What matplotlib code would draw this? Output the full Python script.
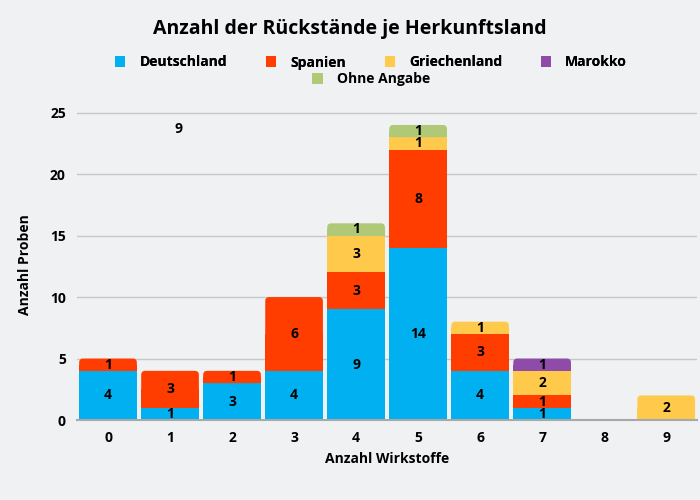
import matplotlib
matplotlib.use("Agg")
import matplotlib.pyplot as plt
from matplotlib.patches import FancyBboxPatch, Patch
import numpy as np

# ── DATA ──────────────────────────────────────────────────────────────────────
categories   = [0, 1, 2, 3, 4, 5, 6, 7, 8, 9]
deutschland  = [4, 1, 3, 4, 9, 14, 4, 1, 0, 0]
spanien      = [1, 3, 1, 6, 3, 8, 3, 1, 0, 0]
griechenland = [0, 0, 0, 0, 3, 1, 1, 2, 0, 2]
marokko      = [0, 0, 0, 0, 0, 0, 0, 1, 0, 0]
ohne_angabe  = [0, 0, 0, 0, 1, 1, 0, 0, 0, 0]

series = [
    ("Deutschland", deutschland, "#00b0f0"),
    ("Spanien", spanien, "#ff3d00"),
    ("Griechenland", griechenland, "#ffca4c"),
    ("Marokko", marokko, "#8e4ba8"),
    ("Ohne Angabe", ohne_angabe, "#b0c977"),
]

BG = "#f0f1f3"
FONT = "Open Sans"
plt.rcParams["font.family"] = [FONT, "DejaVu Sans"]
plt.rcParams["font.weight"] = "bold"

fig = plt.figure(figsize=(7, 5), dpi=100, facecolor=BG)
ax = fig.add_axes([0.11, 0.16, 0.886, 0.622])
ax.set_facecolor(BG)

ymax = 25.3
ax.set_xlim(-0.5, 9.5)
ax.set_ylim(0, ymax)

width = 0.93
x = np.array(categories)
bottom = np.zeros(len(x))
totals = np.sum([s[1] for s in series], axis=0)

# rounding: ~4px in both directions
ax_w_px = 0.886 * 700
ax_h_px = 0.622 * 500
rx = 4 / ax_w_px * 10
ry = 4 / ax_h_px * ymax

for name, vals, color in series:
    vals = np.array(vals, dtype=float)
    for i in range(len(x)):
        h = vals[i]
        if h <= 0:
            continue
        b = bottom[i]
        left = x[i] - width / 2
        is_top = np.isclose(b + h, totals[i])
        if is_top:
            rb = FancyBboxPatch((left, b), width, h,
                                boxstyle=f"round,pad=0,rounding_size={rx}",
                                mutation_aspect=ry / rx,
                                facecolor=color, edgecolor="none", zorder=2)
            ax.add_patch(rb)
            ax.add_patch(plt.Rectangle((left, b), width, min(h, h / 2 + 0.01),
                                       facecolor=color, edgecolor="none", zorder=2))
        else:
            ax.add_patch(plt.Rectangle((left, b), width, h,
                                       facecolor=color, edgecolor="none", zorder=2))
        ax.text(x[i], b + h / 2, f"{int(h)}", ha="center", va="center",
                fontsize=10, fontweight="bold", color="black", zorder=4)
    bottom += vals

# stray label seen in the chart
ax.text(1.14, 23.7, "9", ha="center", va="center", fontsize=10,
        fontweight="bold", color="black")

ax.set_yticks([0, 5, 10, 15, 20, 25])
ax.set_xticks(categories)
ax.grid(axis="y", color="#c8c8c8", linewidth=1, zorder=0)
ax.set_axisbelow(True)
for sp in ["top", "right", "left"]:
    ax.spines[sp].set_visible(False)
ax.spines["bottom"].set_color("#a8a8a8")
ax.spines["bottom"].set_linewidth(1.5)
ax.spines["bottom"].set_zorder(3)
ax.tick_params(axis="both", length=0, labelsize=10, pad=8)
for lab in ax.get_xticklabels() + ax.get_yticklabels():
    lab.set_fontweight("bold")

ax.set_xlabel("Anzahl Wirkstoffe", fontsize=10, fontweight="bold", labelpad=5)
ax.set_ylabel("Anzahl Proben", fontsize=10, fontweight="bold", labelpad=13)

fig.text(0.5, 0.942, "Anzahl der Rückstände je Herkunftsland", ha="center",
         va="center", fontsize=14, fontweight="bold")

handles = [Patch(facecolor=c, edgecolor="none", label=n) for n, _, c in series]
leg_kw = dict(frameon=False, fontsize=10, handlelength=0.75, handleheight=0.8,
              handletextpad=1.0)
leg1 = fig.legend(handles=handles[:4], loc="center", bbox_to_anchor=(0.53, 0.875),
                  ncol=4, columnspacing=2.8, **leg_kw)
fig.add_artist(leg1)
fig.legend(handles=handles[4:], loc="center", bbox_to_anchor=(0.53, 0.841),
           ncol=1, **leg_kw)

fig.savefig("out.png", dpi=100, facecolor=BG)
